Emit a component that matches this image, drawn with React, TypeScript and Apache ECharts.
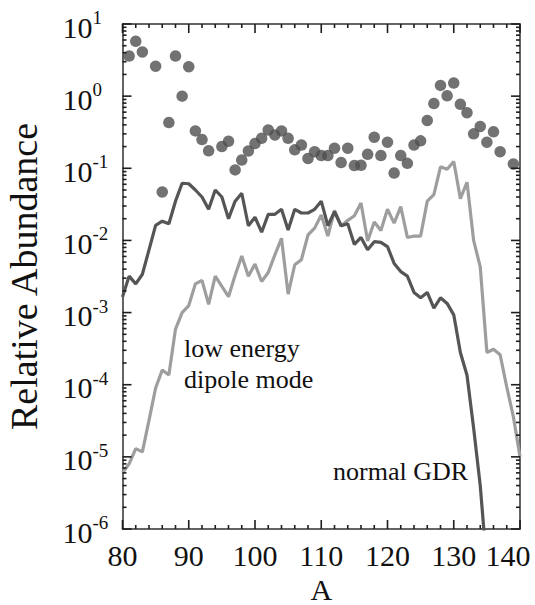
import React, { useEffect, useRef } from "react";
import * as echarts from "echarts";

// Mass number A (x axis)
const massNumbers = [
  80, 81, 82, 83, 84, 85, 86, 87, 88, 89, 90, 91, 92, 93, 94, 95, 96, 97, 98, 99,
  100, 101, 102, 103, 104, 105, 106, 107, 108, 109, 110, 111, 112, 113, 114, 115, 116, 117, 118, 119,
  120, 121, 122, 123, 124, 125, 126, 127, 128, 129, 130, 131, 132, 133, 134, 135, 136, 137, 138, 139, 140,
];

// normal GDR (dark line), A = 80 .. 135
const normalGDR = [
  1.65e-3, 3.2e-3, 2.5e-3, 3.4e-3, 7.4e-3, 0.0162, 0.0185, 0.017, 0.035, 0.062,
  0.061, 0.05, 0.04, 0.027, 0.05, 0.04, 0.02, 0.035, 0.045, 0.016,
  0.021, 0.013, 0.023, 0.023, 0.027, 0.014, 0.027, 0.024, 0.024, 0.027,
  0.035, 0.016, 0.025, 0.016, 0.017, 0.0088, 0.011, 0.0074, 0.0096, 0.0094,
  0.0082, 0.0048, 0.0037, 0.0032, 0.0019, 0.0016, 0.0019, 0.00115, 0.0016, 0.00134,
  0.00093, 0.00028, 0.000135, 0.000025, 0.000004, 0.0000003,
];

// low energy dipole mode (light line), A = 80 .. 140
const lowEnergyDipole = [
  6e-6, 8e-6, 1.3e-5, 1.17e-5, 3.2e-5, 9e-5, 1.6e-4, 1.36e-4, 5.9e-4, 1.0e-3,
  1.25e-3, 2.5e-3, 2.8e-3, 1.3e-3, 3.2e-3, 2.3e-3, 1.66e-3, 3.3e-3, 6.1e-3, 3.2e-3,
  4.7e-3, 2.7e-3, 3.6e-3, 6.3e-3, 0.0107, 1.8e-3, 4.6e-3, 5.4e-3, 0.0119, 0.0148,
  0.0225, 0.0115, 0.026, 0.0158, 0.019, 0.022, 0.033, 0.0098, 0.018, 0.0137,
  0.027, 0.0174, 0.0295, 0.011, 0.0115, 0.0115, 0.035, 0.043, 0.105, 0.097,
  0.124, 0.038, 0.064, 0.01, 4.3e-3, 2.8e-4, 3.1e-4, 2.6e-4, 9.3e-5, 3.6e-5, 1e-5,
];

// measured abundances (dots)
const dotMass = [
  81, 82, 83, 85, 86, 87, 88, 89, 90, 91, 92, 93, 95, 96, 97, 98, 99, 100, 101, 102,
  103, 104, 105, 106, 107, 108, 109, 110, 111, 112, 113, 114, 115, 116, 117, 118, 119, 120, 121, 122,
  123, 124, 125, 126, 127, 128, 129, 130, 131, 132, 133, 134, 135, 136, 137, 139,
];
const dotAbundance = [
  3.6, 5.75, 4.1, 2.6, 0.047, 0.43, 3.6, 1.0, 2.56, 0.33, 0.25, 0.175, 0.2, 0.237, 0.095, 0.13, 0.174, 0.22, 0.26, 0.34,
  0.29, 0.33, 0.26, 0.18, 0.21, 0.137, 0.17, 0.15, 0.15, 0.19, 0.12, 0.19, 0.109, 0.11, 0.156, 0.27, 0.15, 0.23, 0.086, 0.15,
  0.117, 0.21, 0.24, 0.46, 0.79, 1.41, 1.01, 1.52, 0.77, 0.59, 0.3, 0.38, 0.23, 0.32, 0.17, 0.115,
];

const xTicks = [80, 90, 100, 110, 120, 130, 140];
const yExponents = [-6, -5, -4, -3, -2, -1, 0, 1];

const SERIF = "Times New Roman";
const FRAME = "#303030";
const TICK = "#1e1e1e";
const INK = "#111111";

export default function App() {
  const ref = useRef<HTMLDivElement>(null);

  useEffect(() => {
    if (!ref.current) return;
    const chart = echarts.init(ref.current, undefined, { renderer: "svg" });

    const yMin = Math.pow(10, yExponents[0]);
    const yMax = Math.pow(10, yExponents[yExponents.length - 1]);
    const xMin = xTicks[0];
    const xMax = xTicks[xTicks.length - 1];
    const xStep = xTicks[1] - xTicks[0];

    // tick positions (major flag = 1), derived from the tick lists
    const xTickData: number[][] = [];
    for (let i = 0; i < xTicks.length; i++) {
      xTickData.push([xTicks[i], yMin, 1]);
      if (i < xTicks.length - 1) {
        for (let k = 1; k < 5; k++) xTickData.push([xTicks[i] + (k * xStep) / 5, yMin, 0]);
      }
    }
    const yTickData: number[][] = [];
    for (let i = 0; i < yExponents.length; i++) {
      const base = Math.pow(10, yExponents[i]);
      yTickData.push([xMin, base, 1]);
      if (i < yExponents.length - 1) {
        for (let k = 2; k <= 9; k++) yTickData.push([xMin, k * base, 0]);
      }
    }

    const T = 1.6; // tick thickness

    const baseAxis = {
      splitLine: { show: false },
      axisTick: { show: false },
    };

    chart.setOption({
      animation: false,
      backgroundColor: "#ffffff",
      grid: { left: 122.5, right: 15, top: 24, bottom: 76, containLabel: false, outerBoundsMode: "none" },
      xAxis: [
        {
          ...baseAxis,
          type: "value",
          min: xMin,
          max: xMax,
          interval: xStep,
          position: "bottom",
          axisLine: { show: true, onZero: false, lineStyle: { color: FRAME, width: 1.5 } },
          name: "A",
          nameLocation: "middle",
          nameGap: 40,
          nameTextStyle: { fontFamily: SERIF, fontSize: 30, lineHeight: 30, color: INK },
          axisLabel: {
            show: true,
            margin: 11,
            fontFamily: SERIF,
            fontSize: 30,
            color: INK,
            formatter: (v: number) => (v === xMax ? `{m|${v}}` : `{n|${v}}`),
            rich: {
              n: { fontFamily: SERIF, fontSize: 30, color: INK },
              m: { fontFamily: SERIF, fontSize: 30, color: INK, padding: [0, 24, 0, 0] },
            },
          },
        },
        {
          ...baseAxis,
          type: "value",
          min: xMin,
          max: xMax,
          interval: xStep,
          position: "top",
          axisLine: { show: true, onZero: false, lineStyle: { color: FRAME, width: 1.5 } },
          axisLabel: { show: false },
        },
      ],
      yAxis: [
        {
          ...baseAxis,
          type: "log",
          logBase: 10,
          min: yMin,
          max: yMax,
          position: "left",
          axisLine: { show: true, onZero: false, lineStyle: { color: FRAME, width: 1.5 } },
          axisLabel: {
            show: true,
            align: "left",
            margin: 60,
            padding: [6, 0, 0, 0],
            formatter: (v: number) => `{b|10}{s|${Math.round(Math.log10(v))}}`,
            rich: {
              b: { fontFamily: SERIF, fontSize: 30, color: INK, lineHeight: 38 },
              s: { fontFamily: SERIF, fontSize: 19, color: INK, lineHeight: 16, verticalAlign: "top" },
            },
          },
          name: "Relative Abundance",
          nameLocation: "middle",
          nameGap: 80,
          nameTextStyle: { fontFamily: SERIF, fontSize: 38, color: INK },
        },
        {
          ...baseAxis,
          type: "log",
          logBase: 10,
          min: yMin,
          max: yMax,
          position: "right",
          axisLine: { show: true, onZero: false, lineStyle: { color: FRAME, width: 1.5 } },
          axisLabel: { show: false },
        },
      ],
      graphic: [
        { type: "text", x: 184, y: 348, style: { text: "low energy", fontFamily: SERIF, fontSize: 26, fill: INK, verticalAlign: "middle" } },
        { type: "text", x: 184, y: 379, style: { text: "dipole mode", fontFamily: SERIF, fontSize: 26, fill: INK, verticalAlign: "middle" } },
        { type: "text", x: 333, y: 471, style: { text: "normal GDR", fontFamily: SERIF, fontSize: 26, fill: INK, verticalAlign: "middle" } },
      ],
      series: [
        {
          name: "low energy dipole mode",
          type: "line",
          xAxisIndex: 0,
          yAxisIndex: 0,
          data: lowEnergyDipole.map((v, i) => [massNumbers[i], v]),
          symbol: "none",
          lineStyle: { color: "#9e9e9e", width: 3.2 },
          z: 2,
        },
        {
          name: "normal GDR",
          type: "line",
          xAxisIndex: 0,
          yAxisIndex: 0,
          data: normalGDR.map((v, i) => [massNumbers[i], v]),
          symbol: "none",
          lineStyle: { color: "#555555", width: 3.2 },
          z: 3,
        },
        {
          name: "abundance",
          type: "scatter",
          xAxisIndex: 0,
          yAxisIndex: 0,
          data: dotMass.map((a, i) => [a, dotAbundance[i]]),
          symbolSize: 11.5,
          itemStyle: { color: "#4f4f4f" },
          z: 4,
        },
        {
          name: "x ticks",
          type: "custom",
          xAxisIndex: 0,
          yAxisIndex: 0,
          silent: true,
          clip: false,
          z: 5,
          data: xTickData,
          renderItem: (_p: any, api: any) => {
            const v = api.value(0);
            const major = api.value(2) === 1;
            const len = major ? 9 : 4;
            const b = api.coord([v, yMin]);
            const t = api.coord([v, yMax]);
            return {
              type: "group",
              children: [
                { type: "rect", shape: { x: b[0] - T / 2, y: b[1] - len, width: T, height: len }, style: { fill: TICK } },
                { type: "rect", shape: { x: t[0] - T / 2, y: t[1], width: T, height: len }, style: { fill: TICK } },
              ],
            };
          },
        },
        {
          name: "y ticks",
          type: "custom",
          xAxisIndex: 0,
          yAxisIndex: 0,
          silent: true,
          clip: false,
          z: 5,
          data: yTickData,
          renderItem: (_p: any, api: any) => {
            const v = api.value(1);
            const major = api.value(2) === 1;
            const len = major ? 9 : 4;
            const l = api.coord([xMin, v]);
            const r = api.coord([xMax, v]);
            return {
              type: "group",
              children: [
                { type: "rect", shape: { x: l[0], y: l[1] - T / 2, width: len, height: T }, style: { fill: TICK } },
                { type: "rect", shape: { x: r[0] - len, y: r[1] - T / 2, width: len, height: T }, style: { fill: TICK } },
              ],
            };
          },
        },
      ],
    });

    return () => chart.dispose();
  }, []);

  return <div ref={ref} style={{ position: "fixed", left: 0, top: 0, width: 535, height: 605, background: "#fff" }} />;
}
